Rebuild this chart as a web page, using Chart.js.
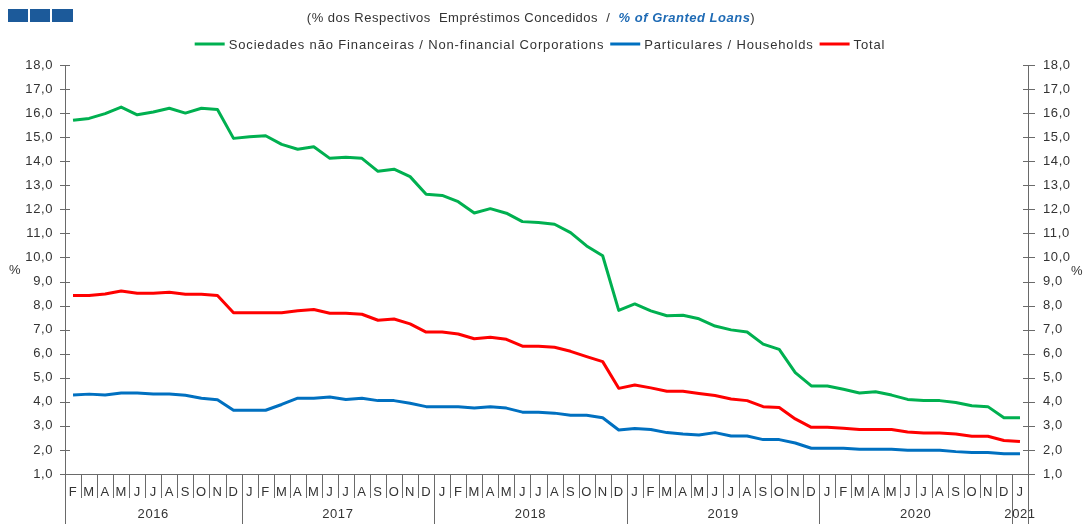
<!DOCTYPE html>
<html>
<head>
<meta charset="utf-8">
<script src="https://cdn.jsdelivr.net/npm/chart.js@4.4.1/dist/chart.umd.min.js"></script>
<style>
html,body{margin:0;padding:0;background:#fff;}
#wrap{position:relative;width:1083px;height:524px;}
</style>
</head>
<body>
<div id="wrap"><canvas id="c" width="1083" height="524"></canvas></div>
<script>
const months = ['F','M','A','M','J','J','A','S','O','N','D',
  'J','F','M','A','M','J','J','A','S','O','N','D',
  'J','F','M','A','M','J','J','A','S','O','N','D',
  'J','F','M','A','M','J','J','A','S','O','N','D',
  'J','F','M','A','M','J','J','A','S','O','N','D',
  'J'];
const years = ['2016','2017','2018','2019','2020','2021'];
const yearSpans = [11,12,12,12,12,1];
const yTicks = [1,2,3,4,5,6,7,8,9,10,11,12,13,14,15,16,17,18];

const nfc = [15.70,15.78,15.98,16.25,15.93,16.05,16.20,16.00,16.20,16.15,14.95,
  15.02,15.06,14.70,14.50,14.60,14.12,14.17,14.12,13.58,13.67,13.36,12.63,
  12.58,12.32,11.85,12.03,11.84,11.49,11.45,11.38,11.03,10.48,10.07,7.80,
  8.07,7.78,7.58,7.60,7.45,7.15,6.99,6.90,6.40,6.18,5.21,4.66,
  4.66,4.52,4.37,4.42,4.28,4.10,4.05,4.05,3.97,3.84,3.80,3.34,
  3.34];
const households = [4.28,4.32,4.28,4.37,4.37,4.33,4.33,4.27,4.15,4.09,3.65,
  3.65,3.65,3.89,4.15,4.15,4.20,4.10,4.15,4.05,4.05,3.94,3.80,
  3.80,3.80,3.74,3.80,3.74,3.57,3.57,3.53,3.44,3.44,3.34,2.83,
  2.89,2.85,2.72,2.66,2.62,2.72,2.58,2.58,2.43,2.43,2.29,2.07,
  2.07,2.07,2.03,2.03,2.03,1.99,1.99,1.99,1.93,1.89,1.89,1.84,
  1.84];
const total = [8.42,8.42,8.48,8.61,8.51,8.51,8.55,8.47,8.47,8.42,7.70,
  7.70,7.70,7.70,7.79,7.84,7.68,7.68,7.64,7.39,7.44,7.24,6.90,
  6.90,6.82,6.62,6.68,6.60,6.31,6.31,6.27,6.10,5.88,5.67,4.56,
  4.70,4.58,4.44,4.44,4.35,4.26,4.12,4.05,3.80,3.76,3.29,2.94,
  2.94,2.90,2.85,2.85,2.85,2.75,2.70,2.70,2.66,2.57,2.57,2.39,
  2.35];

const seriesNames = ['Sociedades não Financeiras / Non-financial Corporations','Particulares / Households','Total'];
const seriesColors = ['#00B050','#0070C0','#FF0000'];

const FONT = '"Liberation Sans", Arial, sans-serif';
const AXIS = '#6a6a6a';
const TXT = '#333333';

const fmt = v => Number(v).toFixed(1).replace('.', ',');

const decor = {
  id: 'decor',
  beforeInit(chart){ chart.ctx.letterSpacing = '0.6px'; },
  beforeDraw(chart){ chart.ctx.letterSpacing = '0.6px'; },
  afterDraw(chart){
    const ctx = chart.ctx;
    const ca = chart.chartArea;
    const ys = chart.scales.y;
    ctx.save();
    ctx.letterSpacing = '0px';
    // header squares
    ctx.fillStyle = '#1C5A9A';
    [[8,20],[30,20],[52,21]].forEach(s=>ctx.fillRect(s[0],9,s[1],13));
    // subtitle
    ctx.letterSpacing = '0.5px';
    ctx.textBaseline = 'middle';
    const p1 = '(% dos Respectivos  Empréstimos Concedidos  /  ';
    const p2 = '% of Granted Loans';
    const p3 = ')';
    const f1 = '13px ' + FONT, f2 = 'italic bold 13px ' + FONT;
    ctx.font = f1; const w1 = ctx.measureText(p1).width, w3 = ctx.measureText(p3).width;
    ctx.font = f2; const w2 = ctx.measureText(p2).width;
    let sx = 531 - (w1 + w2 + w3)/2;
    ctx.textAlign = 'left';
    ctx.font = f1; ctx.fillStyle = TXT; ctx.fillText(p1, sx, 18);
    ctx.font = f2; ctx.fillStyle = '#1F6BB5'; ctx.fillText(p2, sx + w1, 18);
    ctx.font = f1; ctx.fillStyle = TXT; ctx.fillText(p3, sx + w1 + w2, 18);
    // legend
    ctx.letterSpacing = '0.85px';
    ctx.font = '13px ' + FONT;
    const ds = chart.data.datasets;
    const lineW = 30, g1 = 4, g2 = 6;
    let totW = 0;
    ds.forEach((d,i)=>{ totW += lineW + g1 + ctx.measureText(d.label).width + (i < ds.length-1 ? g2 : 0); });
    let lx = 540 - totW/2;
    const ly = 44;
    ds.forEach((d,i)=>{
      ctx.strokeStyle = d.borderColor; ctx.lineWidth = 3;
      ctx.beginPath(); ctx.moveTo(lx, ly); ctx.lineTo(lx + lineW, ly); ctx.stroke();
      ctx.fillStyle = TXT;
      ctx.fillText(d.label, lx + lineW + g1, ly + 1);
      lx += lineW + g1 + ctx.measureText(d.label).width + g2;
    });
    // axes lines extended
    ctx.strokeStyle = AXIS; ctx.lineWidth = 1;
    const H = chart.height;
    ctx.beginPath();
    ctx.moveTo(Math.round(ca.left)+0.5, ca.top); ctx.lineTo(Math.round(ca.left)+0.5, H);
    ctx.moveTo(Math.round(ca.right)+0.5, ca.top); ctx.lineTo(Math.round(ca.right)+0.5, H);
    ctx.moveTo(ca.left - 5, Math.round(ca.bottom)+0.5); ctx.lineTo(ca.right + 7, Math.round(ca.bottom)+0.5);
    // y tick crosses
    yTicks.forEach(v=>{
      const y = Math.round(ys.getPixelForValue(v)) + 0.5;
      ctx.moveTo(ca.left - 5, y); ctx.lineTo(ca.left + 5, y);
      ctx.moveTo(ca.right - 5, y); ctx.lineTo(ca.right + 7, y);
    });
    ctx.stroke();
    // x separators
    const n = months.length;
    const cw = (ca.right - ca.left) / n;
    const yearBounds = new Set();
    let acc = 0; yearSpans.forEach(s=>{ yearBounds.add(acc); acc += s; }); yearBounds.add(acc);
    ctx.beginPath();
    for (let i = 1; i < n; i++){
      const x = Math.round(ca.left + i*cw) + 0.5;
      ctx.moveTo(x, ca.bottom); ctx.lineTo(x, yearBounds.has(i) ? H : ca.bottom + 24);
    }
    ctx.stroke();
    // year labels
    ctx.fillStyle = TXT; ctx.textAlign = 'center'; ctx.letterSpacing = '0.6px';
    ctx.font = '13px ' + FONT;
    acc = 0;
    yearSpans.forEach((s,k)=>{
      const cx = ca.left + (acc + s/2)*cw;
      ctx.fillText(years[k], cx, ca.bottom + 40);
      acc += s;
    });
    // % labels
    ctx.fillText('%', 15, 270);
    ctx.fillText('%', 1077, 271);
    ctx.restore();
  }
};

const yScale = (pos, pad, w) => ({
  type: 'linear', position: pos, min: 1, max: 18,
  grid: { display: false, drawTicks: false },
  border: { display: false },
  ticks: { stepSize: 1, padding: pad, color: TXT, font: { family: FONT, size: 13 }, callback: fmt },
  afterFit: s => { s.width = w; },
  afterBuildTicks: s => { s.ticks = yTicks.map(v => ({ value: v })); }
});

new Chart(document.getElementById('c'), {
  type: 'line',
  data: {
    labels: months,
    datasets: [
      { label: seriesNames[0], data: nfc, borderColor: seriesColors[0], backgroundColor: seriesColors[0], yAxisID: 'y' },
      { label: seriesNames[1], data: households, borderColor: seriesColors[1], backgroundColor: seriesColors[1], yAxisID: 'y' },
      { label: seriesNames[2], data: total, borderColor: seriesColors[2], backgroundColor: seriesColors[2], yAxisID: 'y' }
    ]
  },
  options: {
    responsive: false,
    animation: false,
    events: [],
    layout: { padding: { top: 65, left: 0, right: 0, bottom: 0 } },
    elements: { point: { radius: 0 }, line: { borderWidth: 3, tension: 0, borderJoinStyle: 'round' } },
    plugins: { legend: { display: false }, title: { display: false }, tooltip: { enabled: false } },
    scales: {
      x: {
        type: 'category', offset: true,
        grid: { display: false, drawTicks: false },
        border: { display: false },
        ticks: { autoSkip: false, maxRotation: 0, minRotation: 0, padding: 11, color: TXT, font: { family: FONT, size: 13 } },
        afterFit: s => { s.height = 50; }
      },
      y: yScale('left', 12, 65),
      y2: yScale('right', 15, 55)
    }
  },
  plugins: [decor]
});
</script>
</body>
</html>
